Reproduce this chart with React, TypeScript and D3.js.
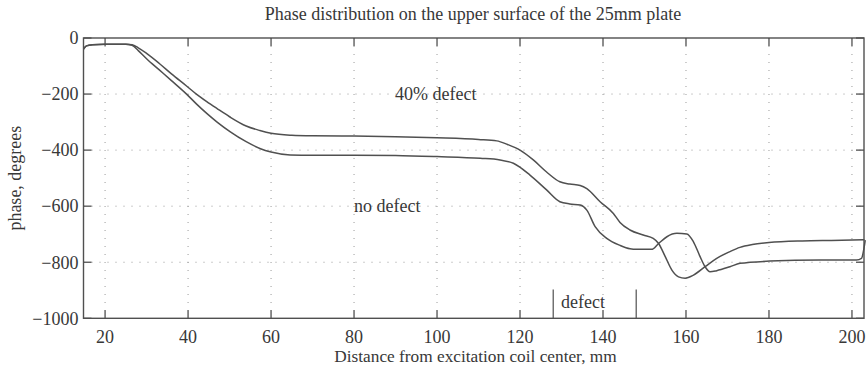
import React from "react";
import * as d3 from "d3";

const TITLE = "Phase distribution on the upper surface of the 25mm plate";
const X_LABEL = "Distance from excitation coil center, mm";
const Y_LABEL = "phase, degrees";
const X_TICKS = [20, 40, 60, 80, 100, 120, 140, 160, 180, 200];
const Y_TICKS = [0, -200, -400, -600, -800, -1000];

// 40% defect curve
const DEFECT_X = [14.8, 15.5, 17, 20, 25, 26.5, 28, 30, 33, 36, 39.7, 42, 44.5, 47, 50, 54, 57.3, 60, 65, 70, 80, 90, 100, 110, 114.4, 117, 120, 123.2, 126.4, 129.6, 132, 134.5, 136.1, 139.3, 142.5, 144.1, 146.5, 149.7, 152.1, 153.4, 155, 156.6, 158.2, 159.8, 161.8, 164.6, 167.4, 170.6, 173, 176, 180, 188, 195, 203];
const DEFECT_Y = [-40, -28, -24, -22, -22, -24, -35, -55, -90, -128, -172, -200, -227, -252, -281, -314, -330, -340, -347, -349, -350, -352, -356, -362, -367, -380, -400, -435, -478, -513, -521, -526, -537, -584, -626, -658, -685, -703, -715, -733, -780, -828, -852, -857, -846, -816, -786, -762, -747, -737, -730, -724, -722, -720];

// no defect curve
const NODEF_X = [14.8, 15.5, 17, 20, 25, 26.5, 28, 30, 33, 36, 39.7, 42, 44.5, 47, 50.1, 54, 57.3, 60, 64.6, 70, 80, 90, 100, 110.4, 115.2, 118.4, 122.4, 126.4, 129.6, 132, 134.5, 136.1, 138.1, 140.9, 144.1, 146.5, 148.1, 151.7, 153.4, 155.4, 157.8, 160.2, 161.8, 163.4, 164.6, 165.8, 167.4, 170.6, 173, 180.2, 192.3, 201.1, 202.3, 202.9, 203.2];
const NODEF_Y = [-40, -28, -24, -22, -22, -26, -45, -74, -113, -152, -201, -235, -269, -300, -334, -370, -394, -407, -417, -418, -418, -419, -423, -429, -435, -447, -489, -542, -584, -592, -596, -614, -673, -715, -740, -752, -754, -754, -733, -709, -697, -699, -727, -780, -816, -834, -830, -816, -804, -796, -792, -792, -786, -750, -721];

const DEFECT_ZONE = [128, 148];

const W = 868, H = 369;
const L = 83.5, R = 864, T = 38, B = 318.3;
const FONT = "'Liberation Serif', 'Times New Roman', serif";
const INK = "#505050";
const TXT = "#383838";

export default function App() {
  const x = d3.scaleLinear().domain([14.8, 202.9]).range([L, R]);
  const y = d3.scaleLinear().domain([-1000, 0]).range([B, T]);
  const line = d3.line<[number, number]>()
    .x(d => x(d[0])).y(d => y(d[1])).curve(d3.curveMonotoneX);
  const defectPts = DEFECT_X.map((v, i) => [v, DEFECT_Y[i]] as [number, number]);
  const nodefPts = NODEF_X.map((v, i) => [v, NODEF_Y[i]] as [number, number]);
  const fmt = (v: number) => (v < 0 ? "\u2212" + Math.abs(v) : String(v));

  return (
    <div style={{ position: "absolute", left: 0, top: 0 }}>
      <svg width={W} height={H} style={{ display: "block", background: "#fff" }}>
        <defs>
          <clipPath id="plot">
            <rect x={L} y={T} width={R - L + 2} height={B - T} />
          </clipPath>
        </defs>
        {/* grid */}
        {X_TICKS.map(t => (
          <line key={"gx" + t} x1={x(t)} x2={x(t)} y1={T} y2={B} stroke="#9a9a9a" strokeWidth={1} strokeDasharray="1,7" />
        ))}
        {Y_TICKS.slice(1, -1).map(t => (
          <line key={"gy" + t} x1={L} x2={R} y1={y(t)} y2={y(t)} stroke="#9a9a9a" strokeWidth={1} strokeDasharray="1,7" />
        ))}
        {/* curves */}
        <g clipPath="url(#plot)" fill="none" stroke={INK} strokeWidth={1.5}>
          <path d={line(defectPts) || ""} />
          <path d={line(nodefPts) || ""} />
        </g>
        {/* box */}
        <rect x={L} y={T} width={R - L} height={B - T} fill="none" stroke={INK} strokeWidth={1.4} />
        {/* ticks */}
        {X_TICKS.map(t => (
          <g key={"tx" + t} stroke={INK} strokeWidth={1.3}>
            <line x1={x(t)} x2={x(t)} y1={B} y2={B - 8} />
            <line x1={x(t)} x2={x(t)} y1={T} y2={T + 8} />
          </g>
        ))}
        {Y_TICKS.map(t => (
          <g key={"ty" + t} stroke={INK} strokeWidth={1.3}>
            <line x1={L} x2={L + 8} y1={y(t)} y2={y(t)} />
            <line x1={R} x2={R - 8} y1={y(t)} y2={y(t)} />
          </g>
        ))}
        {/* tick labels */}
        <g fontFamily={FONT} fontSize={18} fill={TXT}>
          {X_TICKS.map(t => (
            <text key={"lx" + t} x={x(t)} y={343} textAnchor="middle">{fmt(t)}</text>
          ))}
          {Y_TICKS.map(t => (
            <text key={"ly" + t} x={78.5} y={y(t)} dy="0.35em" textAnchor="end">{fmt(t)}</text>
          ))}
        </g>
        {/* defect marker */}
        <g stroke={INK} strokeWidth={1.2}>
          <line x1={x(DEFECT_ZONE[0])} x2={x(DEFECT_ZONE[0])} y1={y(-897)} y2={B} />
          <line x1={x(DEFECT_ZONE[1])} x2={x(DEFECT_ZONE[1])} y1={y(-897)} y2={B} />
        </g>
        <g fontFamily={FONT} fontSize={18} fill={TXT}>
          <text x={561} y={308}>defect</text>
          <text x={395} y={100}>40% defect</text>
          <text x={354} y={212}>no defect</text>
          <text x={473} y={20} textAnchor="middle" fontSize={18}>{TITLE}</text>
          <text x={475.5} y={362} textAnchor="middle" fontSize={17.3}>{X_LABEL}</text>
          <text transform={`translate(21,${(T + B) / 2}) rotate(-90)`} textAnchor="middle">{Y_LABEL}</text>
        </g>
      </svg>
    </div>
  );
}
